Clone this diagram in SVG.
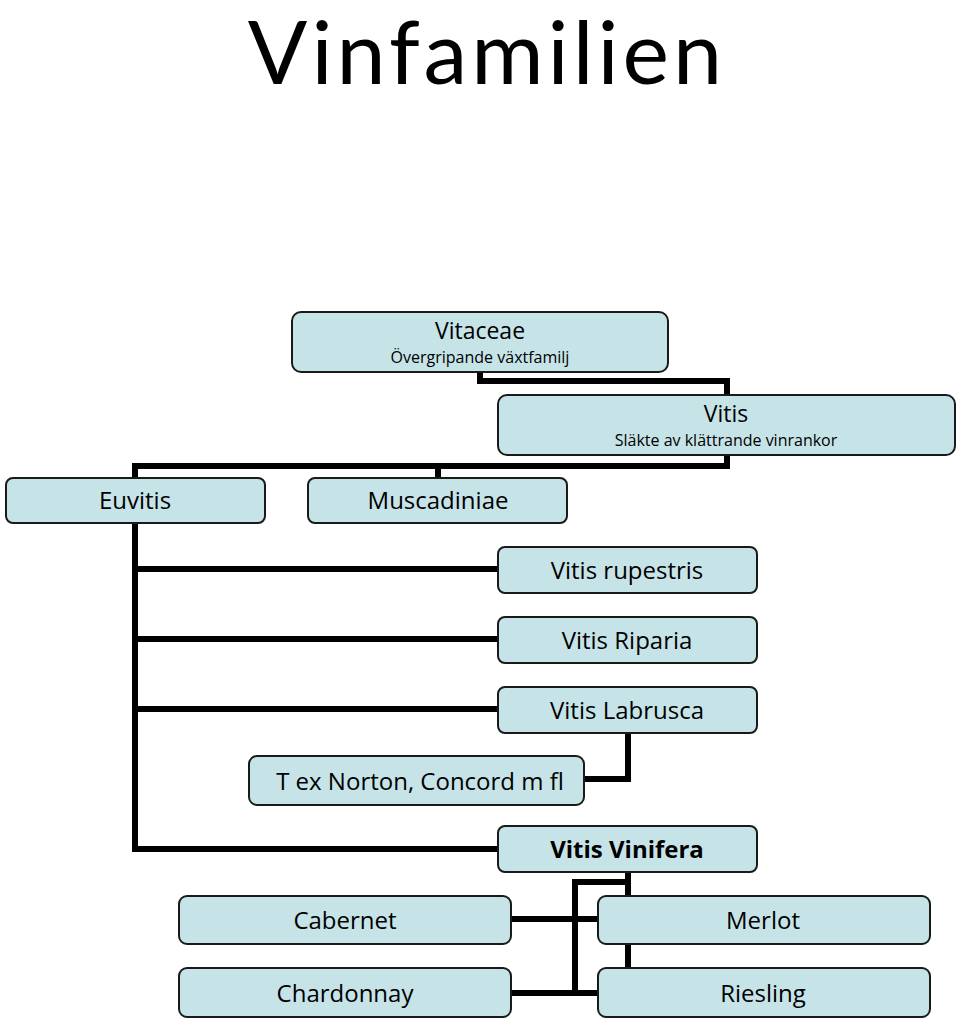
<svg xmlns="http://www.w3.org/2000/svg" width="960" height="1024" viewBox="0 0 960 1024">
<style>
.box{fill:#c6e4e8;stroke:#1a1a1a;stroke-width:2}
.t{font-family:"Comic Sans MS","Open Sans","DejaVu Sans",sans-serif;font-size:24px;fill:#000;text-anchor:middle}
.m{font-size:23px}
.s{font-size:16px}
.b{font-weight:bold}
.c{fill:none;stroke:#000;stroke-width:6;stroke-linejoin:miter}
</style>
<rect width="960" height="1024" fill="#fff"/>
<text x="487" y="84" font-family="Lato,'Open Sans',sans-serif" font-size="88" letter-spacing="4" text-anchor="middle" fill="#000">Vinfamilien</text>
<g id="connectors">
<path class="c" d="M480 372V381H727V395"/>
<path class="c" d="M727 455V466H135V478M438 466V478"/>
<path class="c" d="M135 523V849H498M135 569H498M135 639H498M135 709H498"/>
<path class="c" d="M628 733V779H584"/>
<path class="c" d="M628 872V896M628 882H575V993M511 919H598M511 993H598M628 944V968"/>
</g>
<g id="vitaceae"><rect class="box" x="292" y="312" width="376" height="60" rx="9"/><text class="t m" x="480" y="339">Vitaceae</text><text class="t s" x="480" y="363">Övergripande växtfamilj</text></g>
<g id="vitis"><rect class="box" x="498" y="395" width="457" height="60" rx="9"/><text class="t m" x="726" y="422">Vitis</text><text class="t s" x="726" y="446">Släkte av klättrande vinrankor</text></g>
<g id="euvitis"><rect class="box" x="6" y="478" width="259" height="45" rx="7"/><text class="t" x="135" y="509">Euvitis</text></g>
<g id="muscadiniae"><rect class="box" x="308" y="478" width="259" height="45" rx="7"/><text class="t" x="438" y="509">Muscadiniae</text></g>
<g id="rupestris"><rect class="box" x="498" y="547" width="259" height="46" rx="7"/><text class="t" x="627" y="579">Vitis rupestris</text></g>
<g id="riparia"><rect class="box" x="498" y="617" width="259" height="46" rx="7"/><text class="t" x="627" y="649">Vitis Riparia</text></g>
<g id="labrusca"><rect class="box" x="498" y="687" width="259" height="46" rx="7"/><text class="t" x="627" y="719">Vitis Labrusca</text></g>
<g id="norton"><rect class="box" x="249" y="756" width="335" height="49" rx="8"/><text class="t" x="420" y="790">T ex Norton, Concord m fl</text></g>
<g id="vinifera"><rect class="box" x="498" y="826" width="259" height="46" rx="7"/><text class="t b" x="627" y="858">Vitis Vinifera</text></g>
<g id="cabernet"><rect class="box" x="179" y="896" width="332" height="48" rx="8"/><text class="t" x="345" y="929">Cabernet</text></g>
<g id="merlot"><rect class="box" x="598" y="896" width="332" height="48" rx="8"/><text class="t" x="763" y="929">Merlot</text></g>
<g id="chardonnay"><rect class="box" x="179" y="968" width="332" height="49" rx="8"/><text class="t" x="345" y="1002">Chardonnay</text></g>
<g id="riesling"><rect class="box" x="598" y="968" width="332" height="49" rx="8"/><text class="t" x="763" y="1002">Riesling</text></g>
</svg>
